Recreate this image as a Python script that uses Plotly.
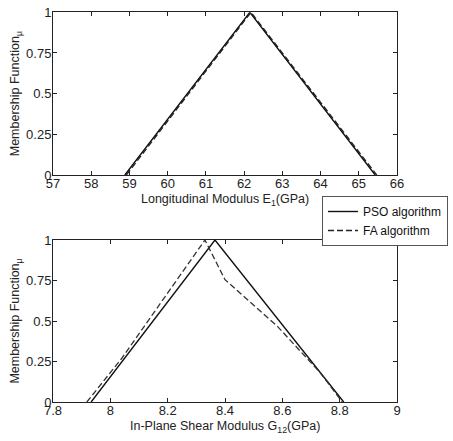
import plotly.graph_objects as go

# Top panel: Longitudinal modulus E1
e1_pso_x = [58.88, 62.15, 65.43]
e1_pso_y = [0, 1, 0]
e1_fa_x = [58.92, 62.18, 65.47]
e1_fa_y = [0, 1, 0]

# Bottom panel: In-plane shear modulus G12
g12_pso_x = [7.933, 8.365, 8.814]
g12_pso_y = [0, 1, 0]
g12_fa_x = [7.918, 8.04, 8.33, 8.40, 8.583, 8.733, 8.809]
g12_fa_y = [0, 0.27, 1, 0.755, 0.467, 0.179, 0]

e1_ticks = [57, 58, 59, 60, 61, 62, 63, 64, 65, 66]
g12_ticks = [7.8, 8.0, 8.2, 8.4, 8.6, 8.8, 9.0]
g12_ticktext = ["7.8", "8", "8.2", "8.4", "8.6", "8.8", "9"]
mu_ticks = [0, 0.25, 0.5, 0.75, 1]
mu_ticktext = ["0", "0.25", "0.5", "0.75", "1"]

FONT = "Liberation Sans, Arial, sans-serif"
W, H = 453, 441


def px_x(v):
    return v / W


def px_y(v):
    return 1 - v / H


fig = go.Figure()
fig.add_trace(go.Scatter(x=e1_pso_x, y=e1_pso_y, mode="lines", name="PSO algorithm",
                         line=dict(color="#111111", width=1.4), xaxis="x", yaxis="y"))
fig.add_trace(go.Scatter(x=e1_fa_x, y=e1_fa_y, mode="lines", name="FA algorithm",
                         line=dict(color="#222222", width=1.3, dash="6px,3px"), xaxis="x", yaxis="y"))
fig.add_trace(go.Scatter(x=g12_pso_x, y=g12_pso_y, mode="lines", showlegend=False,
                         line=dict(color="#111111", width=1.4), xaxis="x2", yaxis="y2"))
fig.add_trace(go.Scatter(x=g12_fa_x, y=g12_fa_y, mode="lines", showlegend=False,
                         line=dict(color="#333333", width=1.3, dash="6px,3px"), xaxis="x2", yaxis="y2"))

xl, xr = px_x(53), px_x(397)
common = dict(showline=True, linecolor="#222222", linewidth=1, mirror="ticks",
              ticks="inside", ticklen=4, tickcolor="#222222", showgrid=False,
              zeroline=False, automargin=False, ticklabeloverflow="allow",
              tickfont=dict(family=FONT, size=13, color="#222222"))
xcommon = dict(common, ticklabelstandoff=-4)
ycommon = dict(common, ticklabelstandoff=-2)
title_font = dict(family=FONT, size=12.5, color="#222222")

fig.update_layout(
    template="none",
    width=W, height=H,
    margin=dict(l=0, r=0, t=0, b=0, pad=0),
    paper_bgcolor="white", plot_bgcolor="white",
    font=dict(family=FONT, color="#222222"),
    xaxis=dict(domain=[xl, xr], range=[57, 66], tickvals=e1_ticks, anchor="y", **xcommon),
    yaxis=dict(domain=[px_y(175), px_y(12.3)], range=[0, 1], tickvals=mu_ticks,
               ticktext=mu_ticktext, anchor="x",
               title=dict(text="Membership Function<sub>μ</sub>", standoff=3,
                          font=title_font), **ycommon),
    xaxis2=dict(domain=[xl, xr], range=[7.8, 9.0], tickvals=g12_ticks, ticktext=g12_ticktext,
                anchor="y2", **xcommon),
    yaxis2=dict(domain=[px_y(402), px_y(240)], range=[0, 1], tickvals=mu_ticks,
                ticktext=mu_ticktext, anchor="x2",
                title=dict(text="Membership Function<sub>μ</sub>", standoff=3,
                           font=title_font), **ycommon),
    legend=dict(x=px_x(448), y=px_y(196), xanchor="right", yanchor="top",
                bordercolor="#555555", borderwidth=1, bgcolor="white",
                font=dict(family=FONT, size=12, color="#111111"),
                tracegroupgap=0, itemwidth=30),
    showlegend=True,
    annotations=[
        dict(text="Longitudinal Modulus E<sub>1</sub>(GPa)", xref="paper", yref="paper",
             x=(xl + xr) / 2, y=px_y(190), xanchor="center", yanchor="top",
             showarrow=False, font=title_font),
        dict(text="In-Plane Shear Modulus G<sub>12</sub>(GPa)", xref="paper", yref="paper",
             x=(xl + xr) / 2, y=px_y(417), xanchor="center", yanchor="top",
             showarrow=False, font=title_font),
    ],
)

fig.write_html("out.html", config={"displayModeBar": False},
               post_script="document.body.style.margin='0';")
